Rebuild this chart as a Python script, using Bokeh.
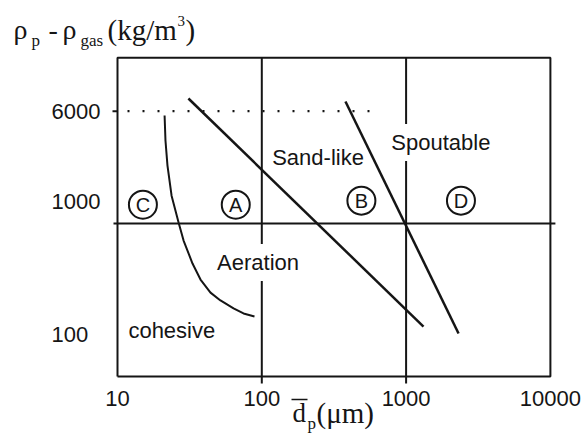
from bokeh.plotting import figure
from bokeh.models import Range1d, Label
from bokeh.core.properties import value
from bokeh.embed import file_html
from bokeh.resources import INLINE

# ---------------- data ----------------
x_ticks = [10, 100, 1000, 10000]
x_tick_labels = ["10", "100", "1000", "10000"]
y_tick_values = [6000, 1000, 100]
y_tick_labels = ["6000", "1000", "100"]
y_box = [87, 14100]          # vertical extent of the framed box
grid_x = [100, 1000]
grid_y = [1000]
dotted_y = 6000
dotted_x_end = 650

# C / A boundary (cohesive)
cohesive_x = [21.2, 21.5, 22.2, 23.7, 26.5, 28.7, 33.1, 37.6, 44.1, 51.7, 63.7, 74.7, 89.0]
cohesive_y = [5600, 3760, 2520, 1560, 1016, 762, 528, 409, 332, 293, 258, 238, 227]
# A / B boundary
sandlike_x = [31, 1320]
sandlike_y = [7350, 193]
# B / D boundary
spout_x = [380, 2310]
spout_y = [7000, 173]

groups = ["C", "A", "B", "D"]
group_x = [15, 66, 490, 2400]
group_y = [1350, 1350, 1440, 1440]

regime_names = ["Sand-like", "Spoutable", "Aeration", "cohesive"]
regime_x = [118, 790, 49, 11.9]
regime_y = [2870, 3640, 537, 181]
regime_bg = [False, True, True, False]

# ---------------- layout (styles) ----------------
PX = 144.3            # pixels per decade
OFF = 0               # page margin (template has none)
X10 = 117 - OFF       # figure px of x = 10
Y1000 = 223 - OFF     # figure px of y = 1000
W, H = 587, 435
INK = "#151515"
SANS = "Liberation Sans"
SERIF = "Liberation Serif"
BL = -8               # baseline correction for the serif titles


def fx(page_px):
    return 10 ** (1 + (page_px - OFF - X10) / PX)


def fy(page_py):
    return 10 ** (3 + (Y1000 - (page_py - OFF)) / PX)


p = figure(
    width=W, height=H,
    x_axis_type="log", y_axis_type="log",
    x_range=Range1d(10 ** (1 - X10 / PX), 10 ** (1 + (W - X10) / PX)),
    y_range=Range1d(10 ** (3 - (H - Y1000) / PX), 10 ** (3 + Y1000 / PX)),
    x_axis_location=None, y_axis_location=None,
    min_border=0, toolbar_location=None, output_backend="svg",
)
p.outline_line_color = None
p.grid.visible = False
p.background_fill_color = "white"
p.border_fill_color = "white"

tick = lambda n: 10 ** (n / PX)

# box
x0, x1 = x_ticks[0], x_ticks[-1]
p.line([x0, x0, x1, x1, x0], [y_box[0], y_box[1], y_box[1], y_box[0], y_box[0]],
       line_color=INK, line_width=2)

# vertical lines at 100 and 1000 (extending as ticks below the box)
for gx in grid_x:
    p.line([gx, gx], [y_box[1], y_box[0] / tick(7)], line_color=INK, line_width=2)
# horizontal line at 1000
for gy in grid_y:
    p.line([x0 / tick(4), x1 * tick(5)], [gy, gy], line_color=INK, line_width=2)
# small tick at 6000 on left edge
p.line([x0 / tick(5), x0], [dotted_y, dotted_y], line_color=INK, line_width=2)
# dotted 6000 line
p.line([x0, dotted_x_end], [dotted_y, dotted_y], line_color=INK, line_width=2.2,
       line_dash="2 13", line_dash_offset=5)

# boundaries
p.line(cohesive_x, cohesive_y, line_color=INK, line_width=2)
p.line(sandlike_x, sandlike_y, line_color=INK, line_width=2.5)
p.line(spout_x, spout_y, line_color=INK, line_width=2.5)

# group circles
p.scatter(group_x, group_y, marker="circle", size=28, fill_color=None,
          line_color=INK, line_width=2)
p.text(group_x, group_y, text=groups, text_font=value(SANS), text_font_size="20px",
       text_align="center", text_baseline="middle", text_color=INK)

# regime labels
for name, rx, ry, bg in zip(regime_names, regime_x, regime_y, regime_bg):
    p.add_layout(Label(x=rx, y=ry, text=name, text_font=SANS, text_font_size="22px",
                       text_align="left", text_baseline="middle", text_color=INK,
                       background_fill_color="white" if bg else None,
                       padding=6, x_offset=-6))

# x tick labels
p.text(x_ticks, [y_box[0]] * len(x_ticks), text=x_tick_labels, y_offset=22,
       text_font=value(SANS), text_font_size="22px", text_align="center",
       text_baseline="middle", text_color=INK)
# y tick labels
p.text([x0] * len(y_tick_values), y_tick_values, text=y_tick_labels,
       x_offset=-66, y_offset=[0, -22, -33],
       text_font=value(SANS), text_font_size="22px", text_align="left",
       text_baseline="middle", text_color=INK)

# y title: rho_p - rho_gas (kg/m^3)
title_parts = [
    ("\u03c1", 13, 37, "28px"),
    ("p", 31, 48, "17px"),
    ("-", 48, 37, "28px"),
    ("\u03c1", 62, 37, "28px"),
    ("gas", 80, 48, "17px"),
    ("(kg/m", 107, 37, "29px"),
    ("3", 177, 28, "15px"),
    (")", 185, 37, "29px"),
]
for t, lx, by, fs in title_parts:
    p.text([fx(lx)], [fy(by + BL)], text=[t], text_font=value(SERIF), text_font_size=fs,
           text_align="left", text_baseline="alphabetic", text_color=INK)

# x title: d-bar_p (um)
xlab_parts = [
    ("d", 292, 420, "27px"),
    ("p", 307, 431, "17px"),
    ("(\u03bcm)", 316, 420, "29px"),
]
for t, lx, by, fs in xlab_parts:
    p.text([fx(lx)], [fy(by + BL)], text=[t], text_font=value(SERIF), text_font_size=fs,
           text_align="left", text_baseline="alphabetic", text_color=INK)
p.segment(x0=[fx(291)], y0=[fy(399)], x1=[fx(307)], y1=[fy(399)],
          line_color=INK, line_width=1.5)

open("out.html", "w").write(file_html(p, INLINE))
